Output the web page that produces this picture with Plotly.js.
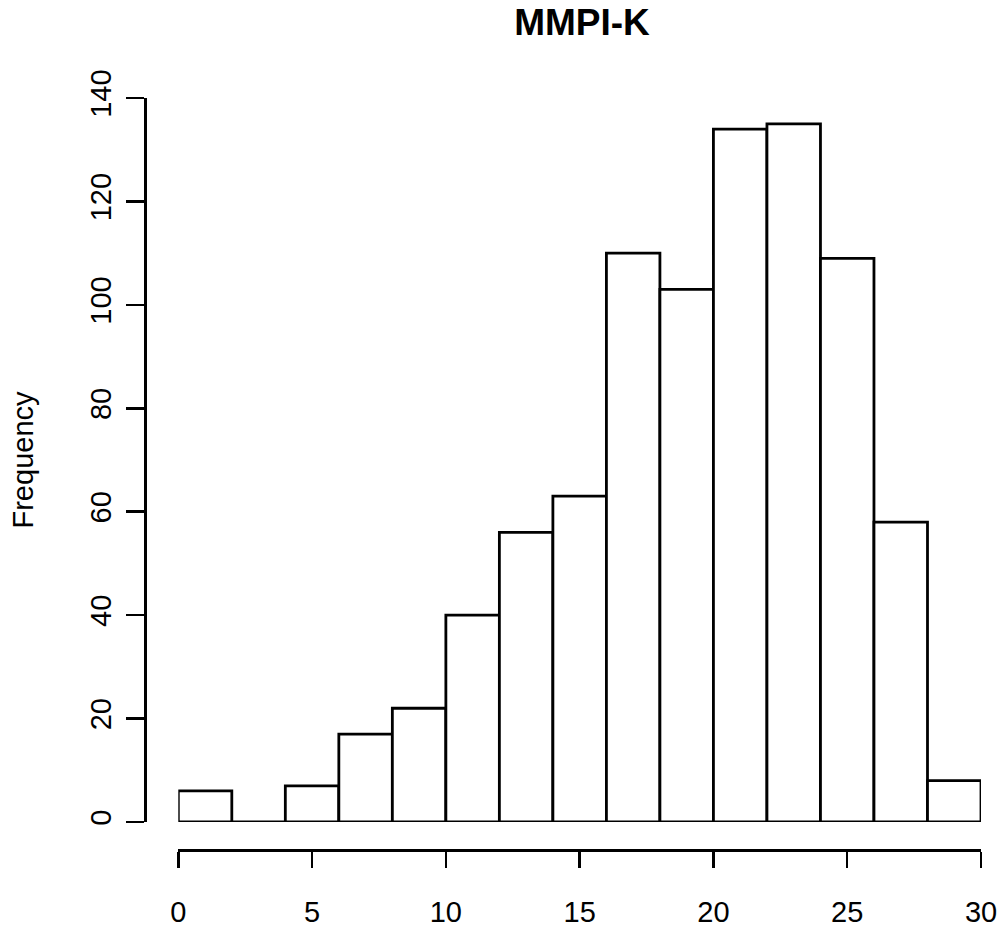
<!DOCTYPE html>
<html>
<head>
<meta charset="utf-8">
<script src="https://cdn.plot.ly/plotly-3.0.1.min.js"></script>
<style>html,body{margin:0;padding:0;background:#fff;}#chart{width:1003px;height:929px;}</style>
</head>
<body>
<div id="chart"></div>
<script>
// Histogram of MMPI-K scores, bins of width 2
const binMids = [1, 3, 5, 7, 9, 11, 13, 15, 17, 19, 21, 23, 25, 27, 29];
const counts  = [6, 0, 7, 17, 22, 40, 56, 63, 110, 103, 134, 135, 109, 58, 8];
const binWidth = 2;
const xTicks = [0, 5, 10, 15, 20, 25, 30];
const yTicks = [0, 20, 40, 60, 80, 100, 120, 140];

const W = 1003, H = 929;
const font = "'Liberation Sans', Arial, Helvetica, sans-serif";

const trace = {
  type: 'bar',
  x: binMids,
  y: counts,
  width: binMids.map(() => binWidth),
  marker: {color: '#ffffff', line: {color: '#000000', width: 2.8}},
  hoverinfo: 'x+y'
};

const layout = {
  width: W, height: H,
  margin: {l: 0, r: 0, t: 0, b: 0},
  paper_bgcolor: '#ffffff',
  plot_bgcolor: 'rgba(0,0,0,0)',
  showlegend: false,
  bargap: 0,
  font: {family: font, color: '#000'},
  title: {
    text: '<b>MMPI-K</b>',
    font: {family: font, size: 37, color: '#000'},
    x: 582 / W, xanchor: 'center', xref: 'paper',
    y: 1 - 22 / H, yanchor: 'middle', yref: 'container'
  },
  xaxis: {
    domain: [178.3 / W, 981 / W],
    range: [0, 30],
    anchor: 'free',
    position: (H - 850) / H,
    showgrid: false, zeroline: false,
    showline: true, linecolor: '#000', linewidth: 2.5,
    ticks: 'outside', ticklen: 16, tickwidth: 2.5, tickcolor: '#000',
    tickmode: 'array', tickvals: xTicks, ticktext: xTicks.map(String),
    tickfont: {family: font, size: 29, color: '#000'},
    ticklabelstandoff: 20,
    automargin: false
  },
  yaxis: {
    domain: [(H - 822) / H, (H - 98) / H],
    range: [0, 140],
    anchor: 'free',
    position: 145 / W,
    showgrid: false, zeroline: false,
    showline: true, linecolor: '#000', linewidth: 2.5,
    ticks: 'outside', ticklen: 18, tickwidth: 2.5, tickcolor: '#000',
    tickmode: 'array', tickvals: yTicks, ticktext: yTicks.map(String),
    tickangle: -90,
    tickfont: {family: font, size: 29, color: '#000'},
    ticklabelstandoff: 3,
    title: {text: 'Frequency', font: {family: font, size: 29, color: '#000'}, standoff: 42},
    automargin: false
  }
};

Plotly.newPlot('chart', [trace], layout, {displayModeBar: false, staticPlot: true});
</script>
</body>
</html>
